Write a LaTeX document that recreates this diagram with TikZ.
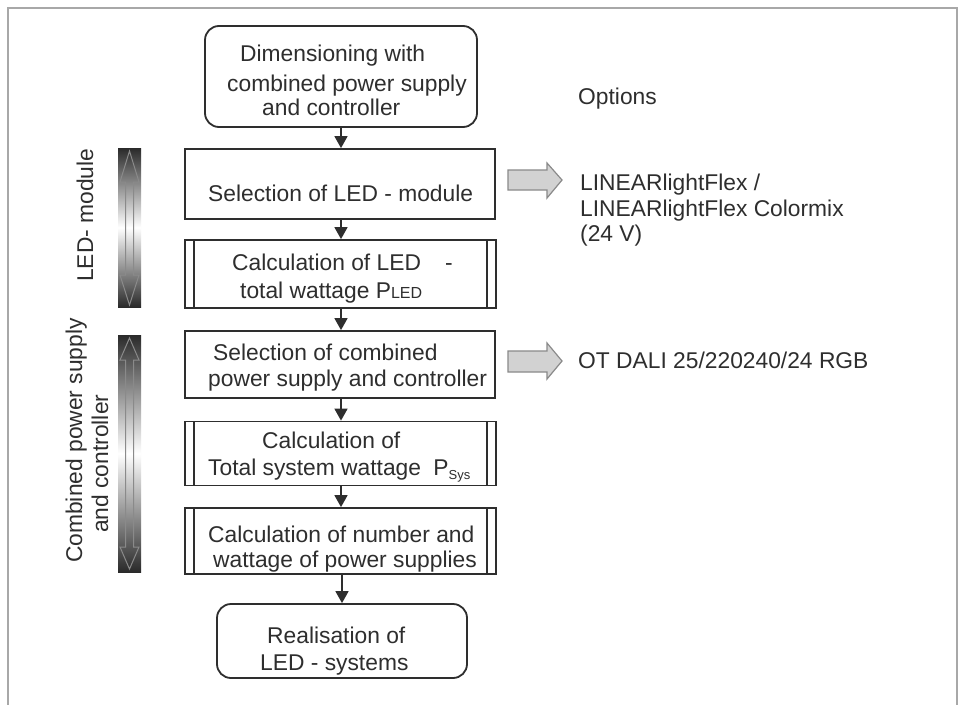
\documentclass[tikz,border=0pt]{standalone}
\usepackage{fontspec}
\setmainfont{Liberation Sans}
\usetikzlibrary{arrows.meta}
\definecolor{ink}{HTML}{2E2E2E}
\definecolor{txt}{HTML}{2E2E2E}
\definecolor{framec}{HTML}{A8A8A8}
\definecolor{blockfill}{HTML}{D2D2D2}
\definecolor{blockline}{HTML}{8A8A8A}
\definecolor{bardark}{HTML}{2A2A2A}
\begin{document}
\begin{tikzpicture}[x=1pt,y=-1pt,
  stepbox/.style={draw=ink, line width=1.8pt, inner sep=0pt, fill=white},
  roundbox/.style={stepbox, rounded corners=14pt},
  procbox/.style={stepbox, path picture={
      \draw[ink, line width=1.6pt] ([xshift=9pt]path picture bounding box.north west) -- ([xshift=9pt]path picture bounding box.south west);
      \draw[ink, line width=1.6pt] ([xshift=-9pt]path picture bounding box.north east) -- ([xshift=-9pt]path picture bounding box.south east);}},
  lbl/.style={anchor=base west, inner sep=0pt, text=txt, font=\fontsize{22.8}{27}\selectfont},
  flow/.style={draw=ink, line width=1.6pt, -{Triangle[width=13pt,length=12pt]}},
  blockarrow/.style={draw=blockline, fill=blockfill, line width=1.2pt},
  dbl/.style={draw=blockline, line width=1pt}
]
\useasboundingbox (0,0) rectangle (960,704);
\fill[white] (0,0) rectangle (960,704);
% frame
\draw[framec, line width=1.3pt] (8,720) -- (8,8) -- (957,8) -- (957,720);

% boxes
\node[roundbox, minimum width=272pt, minimum height=101pt] (n1) at (341,76.5) {};
\node[stepbox, minimum width=310pt, minimum height=70pt] (n2) at (340,184) {};
\node[procbox, minimum width=311pt, minimum height=68pt] (n3) at (340.5,274) {};
\node[stepbox, minimum width=310pt, minimum height=67pt] (n4) at (340,364.5) {};
\node[procbox, minimum width=311pt, minimum height=64pt] (n5) at (340.5,453.5) {};
\node[procbox, minimum width=311pt, minimum height=66pt] (n6) at (340.5,541) {};
\node[roundbox, minimum width=250pt, minimum height=74pt] (n7) at (342,641) {};

% connectors
\draw[flow] (n1.south) -- (n1.south |- n2.north);
\draw[flow] (n1.south |- n2.south) -- (n1.south |- n3.north);
\draw[flow] (n1.south |- n3.south) -- (n1.south |- n4.north);
\draw[flow] (n1.south |- n4.south) -- (n1.south |- n5.north);
\draw[flow] (n1.south |- n5.south) -- (n1.south |- n6.north);
\draw[flow] (n7.north |- n6.south) -- (n7.north);

% texts in boxes
\node[lbl] (t1a) at (240,61.7) {Dimensioning with};
\node[lbl] (t1b) at (227,91) {combined power supply};
\node[lbl] (t1c) at (262,115.7) {and controller};
\node[lbl] (t2) at (208,201.7) {Selection of LED - module};
\node[lbl] (t3a) at (232,270) {Calculation of LED};
\node[lbl] (t3d) at (445,270) {-};
\node[lbl] (t3b) at (240,298) {total wattage P{\fontsize{16}{18}\selectfont LED}};
\node[lbl] (t4a) at (213,360) {Selection of combined};
\node[lbl] (t4b) at (208,386) {power supply and controller};
\node[lbl] (t5a) at (262,448) {Calculation of};
\node[lbl] (t5b) at (208,475) {Total system wattage\hspace{6pt} P\raisebox{-4pt}{\fontsize{13}{14}\selectfont Sys}};
\node[lbl] (t6a) at (208,542) {Calculation of number and};
\node[lbl] (t6b) at (213,567) {wattage of power supplies};
\node[lbl] (t7a) at (267,643) {Realisation of};
\node[lbl] (t7b) at (260,670) {LED - systems};

% options
\node[lbl] (op) at (578,104) {Options};
\node[lbl] (o1a) at (580,190) {LINEARlightFlex /};
\node[lbl] (o1b) at (580,216) {LINEARlightFlex Colormix};
\node[lbl] (o1c) at (580,241) {(24 V)};
\node[lbl] (o2) at (578,368) {OT DALI 25/220240/24 RGB};

% block arrows
\draw[blockarrow] (508,170) -- (547,170) -- (547,163) -- (562,180) -- (547,198) -- (547,190) -- (508,190) -- cycle;
\draw[blockarrow] (508,351) -- (547,351) -- (547,343) -- (562,361) -- (547,379) -- (547,372) -- (508,372) -- cycle;

% left bars
\shade[top color=bardark, bottom color=bardark, middle color=white] (118,148) rectangle (141,307);
\draw[dbl] (129.5,151) -- (139,182) -- (133.5,182) -- (133.5,275) -- (139,275) -- (129.5,305) -- (120,275) -- (125.5,275) -- (125.5,182) -- (120,182) -- cycle;
\shade[top color=bardark, bottom color=bardark, middle color=white] (118,335) rectangle (141,572);
\draw[dbl] (129.5,338) -- (139,360) -- (133.5,360) -- (133.5,547) -- (139,547) -- (129.5,569) -- (120,547) -- (125.5,547) -- (125.5,360) -- (120,360) -- cycle;

\node[lbl, rotate=90] (r1) at (93,282) {LED- module};
\node[lbl, rotate=90] (r2a) at (82,563) {Combined power supply};
\node[lbl, rotate=90] (r2b) at (108,533) {and controller};
\end{tikzpicture}
\end{document}
